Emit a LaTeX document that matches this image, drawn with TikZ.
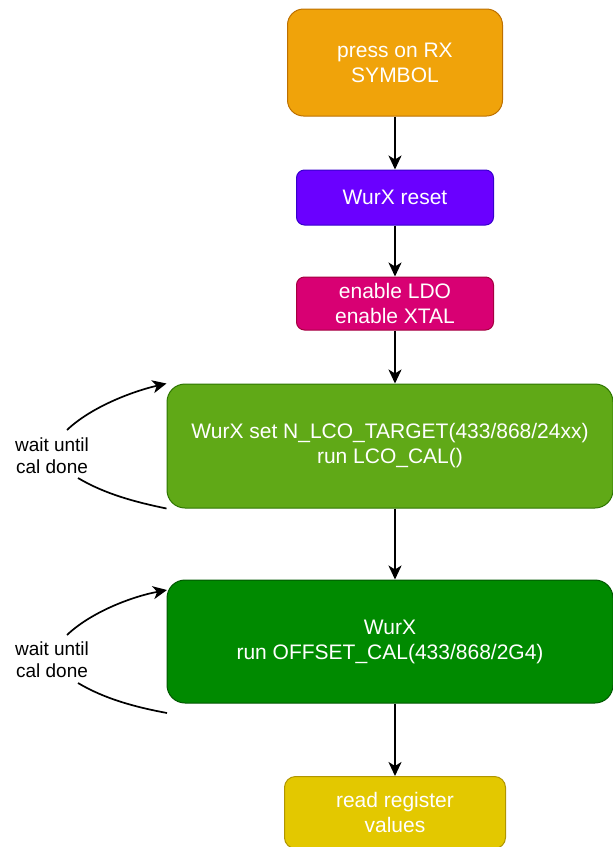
\documentclass[tikz,border=0pt]{standalone}
\usepackage{fontspec}
\setmainfont{Liberation Sans}
\usetikzlibrary{arrows.meta,calc}
\definecolor{orF}{HTML}{F0A30A}\definecolor{orD}{HTML}{BD7000}
\definecolor{puF}{HTML}{6A00FF}\definecolor{puD}{HTML}{3700CC}
\definecolor{piF}{HTML}{D80073}\definecolor{piD}{HTML}{A50040}
\definecolor{gnF}{HTML}{60A917}\definecolor{gnD}{HTML}{2D7600}
\definecolor{dgF}{HTML}{008A00}\definecolor{dgD}{HTML}{005700}
\definecolor{yeF}{HTML}{E3C800}\definecolor{yeD}{HTML}{B09500}
\begin{document}
\begin{tikzpicture}[x=1pt,y=-1pt,
  box/.style={draw, line width=1pt, text=white, align=center, inner sep=0pt,
    font=\fontsize{21}{25}\selectfont},
  side/.style={align=center, inner sep=0pt, font=\fontsize{19}{22}\selectfont},
  flow/.style={draw=black, line width=2.2pt, -{Stealth[length=14pt,width=13pt,inset=4pt]}},
  loop/.style={draw=black, line width=1.7pt},
  looparr/.style={loop, -{Stealth[length=14pt,width=13pt,inset=4pt]}}]
\useasboundingbox (0,0) rectangle (613,847);
\node[box, fill=orF, draw=orD, minimum width=215, minimum height=107, rounded corners=16] (b1) at (395,62.5) {press on RX\\SYMBOL};
\node[box, fill=puF, draw=puD, minimum width=197, minimum height=55, rounded corners=8] (b2) at (395,197.5) {WurX reset};
\node[box, fill=piF, draw=piD, minimum width=197, minimum height=53, rounded corners=8] (b3) at (395,303.5) {enable LDO\\enable XTAL};
\node[box, fill=gnF, draw=gnD, minimum width=446, minimum height=124, rounded corners=18] (b4) at (390,446) {WurX set N\_LCO\_TARGET(433/868/24xx)\\run LCO\_CAL()};
\node[box, fill=dgF, draw=dgD, minimum width=446, minimum height=123, rounded corners=18] (b5) at (390,641.5) {WurX\\run OFFSET\_CAL(433/868/2G4)};
\node[box, fill=yeF, draw=yeD, minimum width=221, minimum height=72, rounded corners=11] (b6) at (395,812.5) {read register\\values};
\node[side] (w1) at (52,456) {wait until\\cal done};
\node[side] (w2) at (52,660) {wait until\\cal done};
\draw[flow] (b1.south) -- (b2.north);
\draw[flow] (b2.south) -- (b3.north);
\draw[flow] (b3.south) -- (b3.south |- b4.north);
\draw[flow] (b3.south |- b4.south) -- (b3.south |- b5.north);
\draw[flow] (b6.north |- b5.south) -- (b6.north);
\coordinate (u1) at (67,430);
\coordinate (l1) at (78,478);
\coordinate (u2) at (67,635);
\coordinate (l2) at (78,683);
\coordinate (t2) at (167,590);
\coordinate (e2) at (167,713);
\draw[looparr] (u1) .. controls (90,408) and (130,392) .. (b4.north west);
\draw[loop] (l1) .. controls (105,494) and (135,502) .. (b4.south west);
\draw[looparr] (u2) .. controls (90,613) and (130,597) .. (t2);
\draw[loop] (l2) .. controls (105,699) and (135,707) .. (e2);
\end{tikzpicture}
\end{document}
